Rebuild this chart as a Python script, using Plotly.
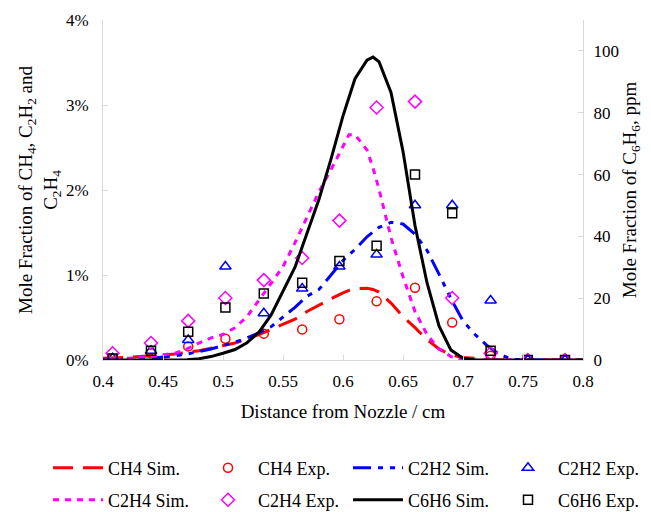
import plotly.graph_objects as go

# Axial position of the measured samples (cm from nozzle)
x_exp = [0.408, 0.44, 0.471, 0.502, 0.534, 0.566, 0.597, 0.628, 0.66, 0.691, 0.723, 0.754, 0.785]

# Measured mole fractions (%, left axis) and benzene (ppm, right axis)
ch4_exp = [0.02, 0.08, 0.16, 0.25, 0.31, 0.36, 0.48, 0.69, 0.85, 0.44, 0.05, 0.0, 0.0]
c2h2_exp = [0.02, 0.11, 0.235, 1.10, 0.55, 0.84, 1.10, 1.24, 1.82, 1.82, 0.70, 0.0, 0.0]
c2h4_exp = [0.08, 0.20, 0.46, 0.73, 0.94, 1.20, 1.64, 2.97, 3.04, 0.73, 0.08, 0.0, 0.0]
c6h6_exp = [0.5, 3.0, 9.1, 17.0, 21.5, 25.0, 32.0, 37.0, 60.0, 47.5, 3.0, 0.0, 0.0]

# Simulated profiles
x_sim = [0.40, 0.42, 0.44, 0.46, 0.47, 0.48, 0.49, 0.50, 0.51, 0.52, 0.53, 0.54,
         0.55, 0.56, 0.57, 0.58, 0.59, 0.60, 0.605, 0.61, 0.62, 0.625, 0.63, 0.64,
         0.65, 0.66, 0.67, 0.68, 0.69, 0.70, 0.71, 0.72, 0.73, 0.74, 0.75, 0.76,
         0.78, 0.80]
ch4_sim = [0.02, 0.03, 0.05, 0.07, 0.09, 0.11, 0.14, 0.17, 0.20, 0.25, 0.30, 0.36,
           0.42, 0.48, 0.57, 0.65, 0.72, 0.79, 0.82, 0.84, 0.845, 0.83, 0.80, 0.67,
           0.51, 0.38, 0.24, 0.13, 0.06, 0.03, 0.02, 0.0, 0.0, 0.0, 0.0, 0.0,
           0.0, 0.0]
c2h2_sim = [0.0, 0.01, 0.02, 0.05, 0.07, 0.10, 0.13, 0.17, 0.21, 0.26, 0.32, 0.39,
            0.50, 0.62, 0.75, 0.83, 1.00, 1.17, 1.24, 1.30, 1.45, 1.51, 1.56, 1.62,
            1.60, 1.48, 1.29, 1.01, 0.72, 0.46, 0.30, 0.17, 0.07, 0.01, 0.0, 0.0,
            0.0, 0.0]
c2h4_sim = [0.0, 0.02, 0.04, 0.08, 0.13, 0.20, 0.26, 0.30, 0.38, 0.51, 0.70, 0.90,
            1.10, 1.38, 1.68, 1.98, 2.24, 2.52, 2.65, 2.65, 2.47, 2.26, 2.01, 1.44,
            0.98, 0.57, 0.30, 0.13, 0.04, 0.0, 0.0, 0.0, 0.0, 0.0, 0.0, 0.0,
            0.0, 0.0]
c6h6_sim = [0.0, 0.0, 0.0, 0.0, 0.1, 0.4, 1.1, 2.2, 3.4, 5.6, 9.0, 14.5,
            22.0, 30.0, 41.0, 52.0, 65.0, 79.0, 85.0, 91.0, 97.0, 98.0, 96.5, 86.6,
            67.5, 43.5, 25.0, 11.0, 3.2, 0.6, 0.0, 0.0, 0.0, 0.0, 0.0, 0.0,
            0.0, 0.0]

FONT = "Liberation Serif, Times New Roman, serif"

fig = go.Figure()


def sim(name, y, color, dash, legend, yaxis="y"):
    fig.add_trace(go.Scatter(x=x_sim, y=y, name=name, mode="lines",
                             line=dict(color=color, width=3, dash=dash),
                             legend=legend, yaxis=yaxis))


def exp(name, y, color, symbol, size, legend, yaxis="y"):
    fig.add_trace(go.Scatter(x=x_exp, y=y, name=name, mode="markers",
                             marker=dict(color=color, symbol=symbol, size=size,
                                         line=dict(color=color, width=1.5)),
                             legend=legend, yaxis=yaxis))


# Legend grid: row 1 = legend (left half) + legend3 (right half),
#              row 2 = legend2 (left half) + legend4 (right half)
sim("CH4 Sim.", ch4_sim, "#ff0000", "20px,10px", "legend")
exp("CH4 Exp.", ch4_exp, "#ff0000", "circle-open", 9, "legend")
sim("C2H2 Sim.", c2h2_sim, "#0000ff", "18px,7px,5px,7px,5px,7px", "legend3")
exp("C2H2 Exp.", c2h2_exp, "#0000ff", "triangle-up-open", 10, "legend3")
sim("C2H4 Sim.", c2h4_sim, "#ff00ff", "6px,6px", "legend2")
exp("C2H4 Exp.", c2h4_exp, "#ff00ff", "diamond-open", 10, "legend2")
sim("C6H6 Sim.", c6h6_sim, "#000000", "solid", "legend4", "y2")
exp("C6H6 Exp.", c6h6_exp, "#000000", "square-open", 9, "legend4", "y2")

axis_common = dict(
    showline=True, linecolor="#d9d9d9", linewidth=1,
    ticks="inside", ticklen=5, tickcolor="#d9d9d9", tickwidth=1,
    showgrid=False, zeroline=False, automargin=False,
    tickfont=dict(family=FONT, size=17, color="#000"),
)

legend_common = dict(
    orientation="h", xanchor="left", yanchor="middle",
    xref="container", yref="container",
    itemwidth=50,
    entrywidth=85, entrywidthmode="pixels",
    font=dict(family=FONT, size=18, color="#000"),
    bgcolor="rgba(0,0,0,0)", borderwidth=0,
    traceorder="normal",
)

ROW1, ROW2 = 1 - 468 / 512, 1 - 500 / 512
COL1, COL3 = 48 / 651, 348 / 651

fig.update_layout(
    width=651, height=512,
    margin=dict(l=103, r=68, t=20, b=152),
    paper_bgcolor="white", plot_bgcolor="white",
    font=dict(family=FONT, size=17, color="#000"),
    showlegend=True,
    xaxis=dict(
        range=[0.4, 0.8], dtick=0.05, tick0=0.4,
        ticklabelstandoff=6,
        title=dict(text="Distance from Nozzle / cm",
                   font=dict(family=FONT, size=19), standoff=14),
        **axis_common,
    ),
    yaxis=dict(
        range=[0, 4], dtick=1, ticksuffix="%",
        ticklabelstandoff=10,
        title=dict(text="Mole Fraction of CH<sub>4</sub>, C<sub>2</sub>H<sub>2</sub> and<br>C<sub>2</sub>H<sub>4</sub>",
                   font=dict(family=FONT, size=19), standoff=3),
        **axis_common,
    ),
    yaxis2=dict(
        range=[0, 110], dtick=20, overlaying="y", side="right",
        ticklabelstandoff=6,
        title=dict(text="Mole Fraction of C<sub>6</sub>H<sub>6</sub>, ppm",
                   font=dict(family=FONT, size=19), standoff=4),
        **axis_common,
    ),
    legend=dict(x=COL1, y=ROW1, **legend_common),
    legend2=dict(x=COL1, y=ROW2, **legend_common),
    legend3=dict(x=COL3, y=ROW1, **legend_common),
    legend4=dict(x=COL3, y=ROW2, **legend_common),
)

fig.write_html("out.html")
